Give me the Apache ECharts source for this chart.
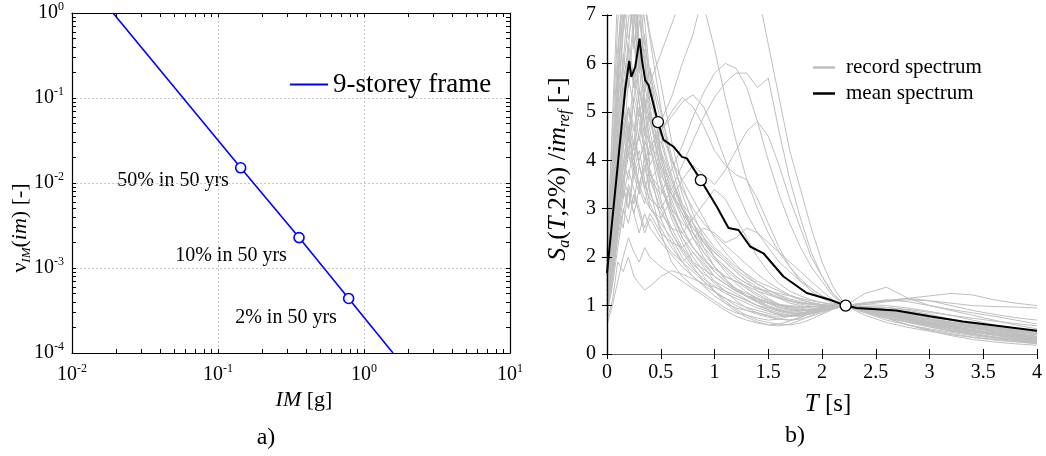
<!DOCTYPE html>
<html>
<head>
<meta charset="utf-8">
<script src="https://cdn.jsdelivr.net/npm/echarts@6/dist/echarts.min.js"></script>
<style>
html,body{margin:0;padding:0;background:#fff;}
#chart{width:1046px;height:456px;}
</style>
</head>
<body>
<div id="chart"></div>
<script>
// ---------- Panel a) hazard curve ----------
const hazardIM   = [0.0191, 0.143, 0.359, 0.785, 1.58];
const hazardRate = [1.0, 0.0151, 0.00228, 0.000438, 0.0001];
const levelIM    = [0.143, 0.359, 0.785];
const levelRate  = [0.0151, 0.00228, 0.000438];
const levelLabels = ['50% in 50 yrs', '10% in 50 yrs', '2% in 50 yrs'];
const logTicksX = [0.01,0.02,0.03,0.04,0.05,0.06,0.07,0.08,0.09,0.1,0.2,0.3,0.4,0.5,0.6,0.7,0.8,0.9,1,2,3,4,5,6,7,8,9,10];
const logTicksY = [0.0001,0.0002,0.0003,0.0004,0.0005,0.0006,0.0007,0.0008,0.0009,0.001,0.002,0.003,0.004,0.005,0.006,0.007,0.008,0.009,0.01,0.02,0.03,0.04,0.05,0.06,0.07,0.08,0.09,0.1,0.2,0.3,0.4,0.5,0.6,0.7,0.8,0.9,1];

// ---------- Panel b) spectra ----------
const recordT = [0,0.05,0.1,0.15,0.2,0.25,0.3,0.35,0.4,0.5,0.6,0.7,0.8,0.9,1.0,1.1,1.2,1.3,1.4,1.5,1.6,1.7,1.8,1.9,2.0,2.1,2.22,2.4,2.6,2.8,3.0,3.2,3.4,3.6,3.8,4.0];
const rec01 = [1.6,3.2,5.4,7.8,8.5,6.9,7.5,5.6,4.9,3.8,3.1,2.6,2.2,1.9,1.6,1.45,1.3,1.2,1.15,1.05,0.95,0.9,0.88,0.92,0.95,0.98,1.0,0.92,0.82,0.72,0.62,0.55,0.48,0.42,0.37,0.33];
const rec02 = [1.2,2.4,4.1,5.2,6.3,7.9,6.1,5.4,5.9,4.2,3.3,2.9,2.4,2.1,1.8,1.6,1.5,1.35,1.2,1.1,1.0,0.95,0.9,0.93,0.97,1.0,1.0,0.95,0.9,0.85,0.78,0.7,0.62,0.55,0.5,0.45];
const rec03 = [2.0,4.5,6.8,9.0,7.2,8.1,6.4,5.0,4.3,3.2,2.5,2.1,1.8,1.5,1.3,1.1,0.92,0.8,0.7,0.65,0.62,0.6,0.64,0.72,0.82,0.92,1.0,0.88,0.75,0.6,0.5,0.42,0.35,0.3,0.26,0.22];
const rec04 = [0.8,1.6,2.8,4.6,5.1,4.3,5.5,4.8,3.9,4.4,3.6,3.0,2.7,2.3,2.0,1.8,1.6,1.45,1.35,1.25,1.15,1.05,1.0,0.95,0.93,0.96,1.0,1.05,1.1,1.15,1.1,1.0,0.9,0.82,0.75,0.7];
const rec05 = [1.4,2.2,3.5,3.9,4.6,3.8,4.2,3.6,3.1,2.6,2.2,1.9,2.1,1.8,1.5,1.3,1.1,0.95,0.85,0.78,0.72,0.7,0.75,0.85,0.95,1.0,1.0,0.9,0.8,0.72,0.64,0.56,0.48,0.4,0.34,0.28];
const rec06 = [0.7,1.1,1.9,1.7,2.0,1.6,1.45,1.32,1.4,1.6,1.72,1.65,1.55,1.45,1.38,1.3,1.2,1.1,1.0,0.92,0.85,0.8,0.82,0.88,0.94,0.98,1.0,0.96,0.92,0.88,0.8,0.7,0.6,0.52,0.45,0.4];
const rec07 = [1.1,1.8,2.6,3.4,3.0,3.7,3.3,3.8,4.2,4.8,5.3,6.0,6.6,7.5,8.2,8.8,9.0,8.5,7.5,6.4,5.3,4.2,3.4,2.6,1.9,1.4,1.0,0.8,0.65,0.55,0.47,0.4,0.34,0.29,0.25,0.21];
const rec08 = [1.5,2.2,3.0,3.6,3.3,2.9,3.4,3.1,3.6,3.3,3.8,4.3,4.9,5.4,5.8,6.0,5.9,5.5,4.8,4.0,3.3,2.7,2.2,1.8,1.5,1.2,1.0,0.88,0.8,0.75,0.7,0.64,0.58,0.52,0.47,0.43];
const rec09 = [1.3,1.9,2.9,4.0,3.6,4.4,3.9,3.5,3.2,3.0,3.4,3.9,4.4,4.9,5.3,5.6,5.8,5.8,5.5,5.7,4.6,3.6,2.8,2.1,1.6,1.25,1.0,1.25,1.38,1.15,1.0,0.92,0.85,0.78,0.7,0.62];
const rec10 = [1.0,1.7,2.8,3.9,4.8,4.2,4.5,4.0,4.3,4.6,4.9,5.2,5.35,5.1,4.6,4.0,3.4,2.9,2.5,2.2,1.9,1.7,1.5,1.35,1.2,1.1,1.0,0.85,0.7,0.6,0.52,0.45,0.38,0.32,0.28,0.25];
const rec11 = [1.8,2.5,3.5,4.2,5.0,4.6,5.4,5.0,5.6,6.2,6.8,7.4,7.8,7.2,6.3,5.3,4.4,3.6,3.0,2.5,2.1,1.8,1.55,1.35,1.2,1.08,1.0,0.9,0.8,0.7,0.6,0.52,0.45,0.4,0.35,0.3];
const rec12 = [1.3,2.0,3.1,3.5,4.1,3.7,4.0,4.4,4.1,4.6,5.0,5.3,5.1,4.7,4.2,3.9,3.7,3.6,3.2,2.7,2.2,1.8,1.5,1.3,1.15,1.05,1.0,0.94,0.88,0.8,0.72,0.64,0.56,0.5,0.45,0.4];
const rec13 = [1.9,3.8,6.0,8.0,9.5,7.8,6.0,4.6,3.8,2.8,2.3,1.9,1.6,1.4,1.2,1.05,0.95,0.9,0.85,0.8,0.76,0.8,0.85,0.88,0.92,0.96,1.0,0.9,0.78,0.66,0.56,0.47,0.4,0.34,0.28,0.24];
const rec14 = [1.5,2.9,4.6,6.2,5.5,6.8,7.6,6.9,5.7,4.1,3.0,2.4,2.0,1.7,1.45,1.3,1.2,1.1,1.0,0.95,0.9,0.88,0.9,0.92,0.95,0.98,1.0,1.02,1.08,1.12,1.1,1.05,1.0,0.98,0.97,0.95];
const rec15 = [1.0,1.9,3.2,4.2,5.7,5.1,4.4,5.2,4.6,3.5,2.8,2.3,1.9,1.6,1.3,1.05,0.88,0.76,0.66,0.6,0.58,0.62,0.7,0.8,0.88,0.94,1.0,0.95,0.85,0.75,0.65,0.55,0.46,0.38,0.32,0.27];
const rec16 = [1.7,2.6,4.0,5.0,4.4,5.8,5.2,4.5,5.0,4.2,3.6,3.1,2.8,2.5,2.2,2.0,1.8,1.65,1.5,1.4,1.3,1.2,1.12,1.06,1.02,1.0,1.0,0.98,0.96,0.92,0.86,0.8,0.74,0.68,0.63,0.58];
const rec17 = [0.9,1.5,2.4,3.0,2.7,3.3,2.9,2.5,2.8,2.4,2.1,1.9,1.7,1.5,1.3,1.15,1.0,0.9,0.82,0.76,0.72,0.7,0.72,0.78,0.85,0.93,1.0,1.02,1.0,0.95,0.88,0.8,0.7,0.6,0.52,0.46];
const rec18 = [2.1,4.8,7.5,8.8,7.6,6.5,5.2,4.0,3.4,2.5,1.9,1.6,1.4,1.25,1.1,0.95,0.85,0.8,0.74,0.7,0.72,0.78,0.84,0.9,0.95,0.98,1.0,0.9,0.8,0.7,0.6,0.5,0.42,0.35,0.3,0.26];
const rec19 = [1.4,2.7,4.3,5.8,6.9,7.7,6.2,5.3,4.8,3.9,3.3,2.8,2.4,2.0,1.7,1.5,1.35,1.25,1.15,1.08,1.02,0.98,0.94,0.92,0.94,0.97,1.0,0.93,0.86,0.78,0.7,0.62,0.55,0.48,0.42,0.37];
const rec20 = [1.2,2.1,3.6,4.5,5.1,4.7,3.9,3.4,3.8,3.1,2.6,2.2,1.9,1.75,1.6,1.45,1.3,1.2,1.1,1.0,0.92,0.86,0.84,0.86,0.9,0.95,1.0,1.05,1.1,1.15,1.2,1.25,1.22,1.12,1.05,1.0];
const rec21 = [1.6,3.3,5.0,6.6,8.0,6.3,7.1,6.0,5.0,3.6,2.9,2.4,2.1,1.85,1.6,1.45,1.3,1.2,1.12,1.05,1.0,0.98,0.96,0.97,0.98,0.99,1.0,0.9,0.8,0.72,0.64,0.56,0.5,0.44,0.4,0.36];
const rec22 = [1.1,1.9,2.9,3.8,4.4,5.3,4.8,4.2,3.7,3.4,3.0,2.7,2.5,2.3,2.1,1.9,1.7,1.5,1.3,1.15,1.02,0.92,0.86,0.85,0.88,0.94,1.0,0.88,0.74,0.6,0.48,0.38,0.3,0.25,0.21,0.18];
const rec23 = [1.8,3.6,5.8,7.0,6.2,5.5,6.4,5.1,4.4,3.7,3.3,3.0,2.6,2.3,2.0,1.8,1.6,1.45,1.35,1.3,1.25,1.2,1.15,1.1,1.06,1.03,1.0,0.95,0.88,0.8,0.72,0.63,0.54,0.46,0.4,0.35];
const rec24 = [0.8,1.4,2.2,2.9,3.5,3.1,3.9,3.4,3.0,2.7,2.4,2.0,1.75,1.55,1.4,1.25,1.15,1.05,0.95,0.88,0.82,0.78,0.8,0.85,0.9,0.95,1.0,0.98,0.96,0.9,0.82,0.72,0.62,0.54,0.47,0.42];
const rec25 = [1.5,2.4,3.9,5.4,6.1,5.6,4.9,5.5,5.9,5.0,4.1,3.3,2.7,2.2,1.8,1.55,1.35,1.2,1.1,1.05,1.02,1.0,0.98,0.98,0.99,1.0,1.0,0.94,0.86,0.78,0.7,0.6,0.5,0.42,0.36,0.3];
const rec26 = [1.0,1.6,2.5,3.2,3.8,3.4,3.0,2.6,2.9,2.5,2.3,2.2,2.4,2.6,2.5,2.3,2.4,2.6,2.5,2.3,2.1,1.9,1.7,1.5,1.3,1.12,1.0,0.92,0.85,0.78,0.72,0.66,0.6,0.55,0.5,0.46];
const rec27 = [1.3,2.3,3.7,5.1,4.6,4.0,3.5,3.9,3.3,2.9,2.6,2.5,2.8,3.1,3.4,3.2,2.8,2.4,2.0,1.7,1.45,1.3,1.2,1.12,1.06,1.02,1.0,0.93,0.85,0.76,0.67,0.58,0.5,0.43,0.37,0.32];
const rec28 = [0.6,1.0,1.5,2.0,2.4,2.1,1.9,2.2,2.0,1.8,1.65,1.5,1.35,1.2,1.05,0.9,0.78,0.7,0.64,0.6,0.62,0.68,0.76,0.84,0.9,0.96,1.0,0.92,0.82,0.72,0.62,0.52,0.43,0.35,0.28,0.22];
const rec29 = [1.7,3.0,4.8,6.0,7.4,6.6,5.5,4.7,4.3,3.5,2.9,2.5,2.2,1.95,1.75,1.6,1.5,1.4,1.3,1.22,1.15,1.1,1.06,1.03,1.01,1.0,1.0,0.97,0.92,0.85,0.78,0.7,0.62,0.55,0.48,0.42];
const rec30 = [1.2,2.0,3.1,3.6,4.2,3.8,3.5,3.2,3.0,2.8,3.2,3.6,3.9,3.7,3.5,3.8,4.2,4.6,4.8,4.5,3.9,3.2,2.6,2.0,1.6,1.25,1.0,0.85,0.74,0.66,0.6,0.54,0.48,0.43,0.39,0.35];
const rec31 = [1.9,3.4,5.2,6.8,7.9,8.6,7.8,7.2,6.5,5.1,3.9,3.1,2.5,2.1,1.8,1.55,1.35,1.2,1.08,0.98,0.9,0.85,0.84,0.87,0.91,0.96,1.0,0.91,0.82,0.74,0.66,0.58,0.5,0.43,0.37,0.32];
const rec32 = [1.1,2.0,3.3,4.8,4.1,5.3,6.0,7.3,6.6,5.6,4.4,3.5,2.9,2.4,2.0,1.7,1.45,1.28,1.15,1.05,0.97,0.92,0.9,0.9,0.93,0.97,1.0,0.96,0.9,0.83,0.75,0.66,0.57,0.49,0.42,0.36];
const rec33 = [1.4,2.6,3.8,3.2,4.7,4.0,5.1,4.3,3.6,3.9,3.2,2.6,2.2,1.95,1.7,1.5,1.32,1.18,1.06,0.96,0.88,0.83,0.82,0.85,0.9,0.95,1.0,0.94,0.87,0.8,0.72,0.63,0.54,0.46,0.39,0.33];
const rec34 = [2.0,4.1,6.3,7.4,6.5,7.2,5.9,6.6,5.4,4.5,3.7,3.0,2.5,2.2,1.95,1.75,1.55,1.38,1.24,1.12,1.03,0.96,0.92,0.92,0.94,0.97,1.0,0.9,0.79,0.68,0.58,0.49,0.41,0.35,0.3,0.26];
const rec35 = [0.9,1.7,2.6,3.5,3.0,3.9,3.4,4.1,3.6,3.0,2.5,2.15,1.85,1.65,1.5,1.38,1.25,1.12,1.0,0.9,0.82,0.78,0.78,0.83,0.89,0.95,1.0,1.06,1.12,1.08,1.0,0.9,0.8,0.7,0.6,0.52];
const rec36 = [1.6,3.0,4.4,5.6,6.4,5.7,6.9,6.1,5.2,4.6,4.0,3.6,3.2,2.8,2.4,2.1,1.85,1.62,1.45,1.32,1.2,1.11,1.05,1.02,1.0,1.0,1.0,0.93,0.84,0.74,0.64,0.55,0.47,0.4,0.34,0.29];
const rec37 = [1.3,2.1,3.0,2.6,3.4,2.9,2.5,2.9,2.6,2.3,2.05,1.8,1.6,1.42,1.28,1.15,1.05,0.96,0.9,0.84,0.8,0.78,0.8,0.84,0.88,0.94,1.0,0.97,0.9,0.8,0.7,0.6,0.5,0.41,0.33,0.27];
const rec38 = [1.8,3.9,5.5,7.1,8.3,7.0,5.8,6.3,5.1,4.0,3.4,2.9,2.6,2.35,2.1,1.9,1.7,1.52,1.38,1.27,1.17,1.09,1.03,0.99,0.97,0.98,1.0,0.95,0.88,0.82,0.76,0.7,0.64,0.58,0.53,0.48];
const rec39 = [1.0,1.8,2.7,3.6,4.3,3.9,4.6,5.3,4.8,4.1,3.5,3.0,2.7,2.4,2.15,1.95,1.75,1.58,1.44,1.32,1.22,1.14,1.08,1.04,1.01,1.0,1.0,0.88,0.76,0.65,0.56,0.48,0.41,0.35,0.3,0.26];
const rec40 = [1.5,2.8,4.2,5.0,5.8,7.0,7.5,6.4,5.8,4.8,4.0,3.4,3.0,2.7,2.45,2.25,2.05,1.85,1.65,1.48,1.34,1.22,1.13,1.06,1.02,1.0,1.0,0.92,0.83,0.74,0.66,0.59,0.53,0.48,0.44,0.4];
const records = [rec01,rec02,rec03,rec04,rec05,rec06,rec07,rec08,rec09,rec10,rec11,rec12,rec13,rec14,rec15,rec16,rec17,rec18,rec19,rec20,
                 rec21,rec22,rec23,rec24,rec25,rec26,rec27,rec28,rec29,rec30,rec31,rec32,rec33,rec34,rec35,rec36,rec37,rec38,rec39,rec40];

const meanT  = [0,0.005,0.046,0.1,0.17,0.207,0.226,0.263,0.303,0.325,0.356,0.372,0.387,0.474,0.526,0.619,0.697,0.743,0.873,1.022,1.13,1.139,1.223,1.331,1.455,1.641,1.858,2.074,2.22,2.32,2.69,3.0,3.31,4.0];
const meanSa = [1.67,1.67,2.7,3.9,5.48,6.05,5.72,5.93,6.51,6.07,5.65,5.62,5.55,4.79,4.42,4.28,4.07,4.04,3.59,3.04,2.60,2.56,2.56,2.22,2.08,1.60,1.26,1.12,1.0,0.95,0.90,0.78,0.67,0.48];
const condT  = [0.474, 0.873, 2.22];
const condSa = [4.79, 3.59, 1.0];

// ---------- build ----------
const FONT = "'Liberation Serif','Times New Roman',serif";
const zip = (a,b) => a.map((v,i)=>[v,b[i]]);
const powLabel = v => '{b|10}{s|' + Math.round(Math.log10(v)) + '}';
const powRich = {
  b:{fontFamily:FONT,fontSize:20,color:'#000',lineHeight:24},
  s:{fontFamily:FONT,fontSize:12,color:'#000',verticalAlign:'top'}
};
const GREY = '#bfbfbf';

const chart = echarts.init(document.getElementById('chart'), null, {renderer:'canvas'});

const series = [];
series.push({type:'line', name:'9-storey frame', xAxisIndex:0, yAxisIndex:0,
  data:zip(hazardIM, hazardRate), symbol:'none', showSymbol:false, color:'#0000ff',
  lineStyle:{color:'#0000ff', width:1.6}, z:3});
series.push({type:'scatter', name:'levels', xAxisIndex:0, yAxisIndex:0,
  data:zip(levelIM, levelRate), symbol:'circle', symbolSize:10,
  itemStyle:{color:'#ffffff', borderColor:'#0000ff', borderWidth:1.6, opacity:1}, z:4});
records.forEach(r => {
  series.push({type:'line', name:'record spectrum', xAxisIndex:2, yAxisIndex:2,
    data:zip(recordT, r), symbol:'none', showSymbol:false, color:GREY,
    lineStyle:{color:GREY, width:1}, silent:true, z:2});
});
series.push({type:'line', name:'mean spectrum', xAxisIndex:2, yAxisIndex:2,
  data:zip(meanT, meanSa), symbol:'none', showSymbol:false, color:'#000',
  lineStyle:{color:'#000', width:2}, z:5});
series.push({type:'scatter', name:'conditioning', xAxisIndex:2, yAxisIndex:2,
  data:zip(condT, condSa), symbol:'circle', symbolSize:11,
  itemStyle:{color:'#ffffff', borderColor:'#000', borderWidth:1.3, opacity:1}, z:6});

const tickIn = (len, vals) => Object.assign({show:true, inside:true, length:len, lineStyle:{color:'#000', width:1}}, vals ? {customValues: vals} : {});
const gridDots = {show:true, lineStyle:{color:'#c8c8c8', type:[2,2], width:1}};
const hidden = {axisLine:{show:false}, axisTick:{show:false}, axisLabel:{show:false}};

const option = {
  animation:false,
  backgroundColor:'#fff',
  textStyle:{fontFamily:FONT},
  grid:[
    {left:72, top:13, width:438, height:340, show:false},
    {left:607, top:15, width:430, height:339, show:false}
  ],
  xAxis:[
    {type:'log', gridIndex:0, min:0.01, max:10, position:'bottom', z:5,
      axisLine:{show:true, lineStyle:{color:'#000', width:1.2}},
      axisTick:tickIn(4, logTicksX),
      axisLabel:{formatter:powLabel, rich:powRich, margin:10},
      splitLine:{show:false}},
    {type:'log', gridIndex:0, min:0.01, max:10, position:'top', z:5,
      axisLine:{show:true, lineStyle:{color:'#000', width:1.2}},
      axisTick:tickIn(4, logTicksX), axisLabel:{show:false}, splitLine:{show:false}},
    {type:'value', gridIndex:1, min:0, max:4, interval:0.5, position:'bottom', z:5,
      axisLine:{show:true, lineStyle:{color:'#000', width:1.2}},
      axisTick:tickIn(5), axisLabel:{color:'#000', fontFamily:FONT, fontSize:20, margin:9},
      splitLine:{show:false}},
    {type:'value', gridIndex:1, min:0, max:4, interval:0.5, position:'top', z:5,
      axisLine:{show:true, lineStyle:{color:'#6a6a6a', width:1.2}},
      axisTick:tickIn(5), axisLabel:{show:false}, splitLine:{show:false}},
    Object.assign({type:'log', gridIndex:0, min:0.01, max:10, position:'bottom', splitLine:gridDots}, hidden)
  ],
  yAxis:[
    {type:'log', gridIndex:0, min:0.0001, max:1, position:'left', z:5,
      axisLine:{show:true, lineStyle:{color:'#000', width:1.2}},
      axisTick:tickIn(4, logTicksY),
      axisLabel:{formatter:powLabel, rich:powRich, margin:8},
      splitLine:{show:false}},
    {type:'log', gridIndex:0, min:0.0001, max:1, position:'right', z:5,
      axisLine:{show:true, lineStyle:{color:'#000', width:1.2}},
      axisTick:tickIn(4, logTicksY), axisLabel:{show:false}, splitLine:{show:false}},
    {type:'value', gridIndex:1, min:0, max:7, interval:1, position:'left', z:5,
      axisLine:{show:true, lineStyle:{color:'#000', width:1.2}},
      axisTick:tickIn(5), axisLabel:{color:'#000', fontFamily:FONT, fontSize:20, margin:11},
      splitLine:{show:false}},
    {type:'value', gridIndex:1, min:0, max:7, interval:1, position:'right', z:5,
      axisLine:{show:true, lineStyle:{color:'#000', width:1.2}},
      axisTick:tickIn(5), axisLabel:{show:false}, splitLine:{show:false}},
    Object.assign({type:'log', gridIndex:0, min:0.0001, max:1, position:'left', splitLine:gridDots}, hidden)
  ],
  legend:[
    {data:[{name:'9-storey frame', icon:'rect', itemStyle:{color:'#0000ff'}}], left:285, top:66, itemWidth:38, itemHeight:2,
      selectedMode:false, textStyle:{fontFamily:FONT, fontSize:27, color:'#000'}},
    {data:[{name:'record spectrum', icon:'rect', itemStyle:{color:GREY}}, {name:'mean spectrum', icon:'rect', itemStyle:{color:'#000'}}],
      orient:'vertical', left:808, top:52, itemWidth:22, itemHeight:2.5, itemGap:5, selectedMode:false,
      textStyle:{fontFamily:FONT, fontSize:21, color:'#000', padding:[0,0,0,6]}}
  ],
  series:series,
  graphic:[
    {type:'text', x:173, y:181, style:{text:levelLabels[0], font:'20px '+FONT, fill:'#000', align:'center', verticalAlign:'middle'}},
    {type:'text', x:231, y:256, style:{text:levelLabels[1], font:'20px '+FONT, fill:'#000', align:'center', verticalAlign:'middle'}},
    {type:'text', x:286, y:318, style:{text:levelLabels[2], font:'20px '+FONT, fill:'#000', align:'center', verticalAlign:'middle'}},
    {type:'text', x:304, y:400, style:{text:'{i|IM} [g]', font:'22px '+FONT, fill:'#000', align:'center', verticalAlign:'middle',
      rich:{i:{fontStyle:'italic', fontFamily:FONT, fontSize:22}}}},
    {type:'text', x:266, y:438, style:{text:'a)', font:'24px '+FONT, fill:'#000', align:'center', verticalAlign:'middle'}},
    {type:'text', x:828, y:404, style:{text:'{i|T} [s]', font:'25px '+FONT, fill:'#000', align:'center', verticalAlign:'middle',
      rich:{i:{fontStyle:'italic', fontFamily:FONT, fontSize:25}}}},
    {type:'text', x:795, y:436, style:{text:'b)', font:'24px '+FONT, fill:'#000', align:'center', verticalAlign:'middle'}},
    {type:'text', x:20, y:228, rotation:Math.PI/2, style:{
      text:'{n|ν}{sub|IM}{n|(}{i|im}{n|) [-]}', align:'center', verticalAlign:'middle', fill:'#000',
      rich:{n:{fontFamily:FONT, fontSize:22, lineHeight:26}, i:{fontFamily:FONT, fontStyle:'italic', fontSize:22, lineHeight:26},
            sub:{fontFamily:FONT, fontStyle:'italic', fontSize:13, verticalAlign:'bottom'}}}},
    {type:'text', x:558, y:169, rotation:Math.PI/2, style:{
      text:'{i|S}{sub|a}{n|(}{i|T}{n|,2%) /}{i|im}{sub|ref}{n| [-]}', align:'center', verticalAlign:'middle', fill:'#000',
      rich:{n:{fontFamily:FONT, fontSize:26, lineHeight:30}, i:{fontFamily:FONT, fontStyle:'italic', fontSize:26, lineHeight:30},
            sub:{fontFamily:FONT, fontStyle:'italic', fontSize:16, verticalAlign:'bottom'}}}}
  ]
};
chart.setOption(option);
</script>
</body>
</html>
